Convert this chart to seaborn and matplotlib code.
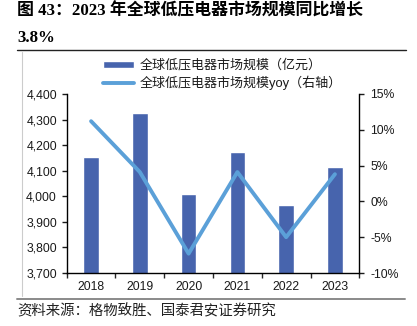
import numpy as np
import pandas as pd
import matplotlib
matplotlib.use("Agg")
import matplotlib.pyplot as plt
from matplotlib.lines import Line2D
from matplotlib.ticker import FuncFormatter, FixedLocator
import seaborn as sns

# Global low-voltage electrical market size (100 million CNY) and YoY growth (%)
years = ["2018", "2019", "2020", "2021", "2022", "2023"]
market_size = [4155, 4325, 4010, 4175, 3965, 4115]
yoy_pct = [11.2, 4.1, -7.3, 4.1, -5.0, 3.8]

bar_label = "全球低压电器市场规模（亿元）"
line_label = "全球低压电器市场规模yoy（右轴）"
title_line1 = "图 43：2023 年全球低压电器市场规模同比增长"
title_line2 = "3.8%"
source_text = "资料来源：格物致胜、国泰君安证券研究"

sns.set_theme(style="white")
plt.rcParams["font.family"] = ["Liberation Sans", "Noto Sans CJK SC", "DejaVu Sans"]

bar_color = "#4764AD"
line_color = "#5BA0D8"

W, H = 417, 326
fig = plt.figure(figsize=(W / 100, H / 100), dpi=100)

def fx(px):
    return px / W

def fy(py):
    return 1 - py / H

ax_left, ax_right, ax_top, ax_bottom = 66.7, 359.3, 94, 273
ax = fig.add_axes([fx(ax_left), fy(ax_bottom), fx(ax_right - ax_left), (ax_bottom - ax_top) / H])

df = pd.DataFrame({"year": years, "size": market_size, "yoy": yoy_pct})

sns.barplot(data=df, x="year", y="size", color=bar_color, width=0.32,
            saturation=1, ax=ax, label=bar_label)
ax.set_ylim(3700, 4400)
ax.set_yticks(np.arange(3700, 4401, 100))
ax.yaxis.set_major_formatter(FuncFormatter(lambda v, p: f"{int(v):,}"))

ax2 = ax.twinx()
sns.pointplot(data=df, x="year", y="yoy", color=line_color, markers="",
              linewidth=2.8, errorbar=None, ax=ax2, label=line_label)
ax2.set_ylim(-10, 15)
ax2.set_yticks(np.arange(-10, 16, 5))
ax2.yaxis.set_major_formatter(FuncFormatter(lambda v, p: f"{int(v)}%"))
ax.set_xlim(-0.5, len(years) - 0.5)

# Only the figure-level legend is kept
for a in (ax, ax2):
    if a.get_legend() is not None:
        a.get_legend().remove()

for a in (ax, ax2):
    a.set_xlabel("")
    a.set_ylabel("")
    a.grid(False)
    for s in a.spines.values():
        s.set_color("black")
        s.set_linewidth(1.0)
    a.spines["top"].set_visible(False)

ax.spines["right"].set_visible(False)
ax2.spines["left"].set_visible(False)
ax2.spines["bottom"].set_visible(False)

tick_font = dict(labelsize=8.8, colors="#1a1a1a")
ax.tick_params(axis="y", direction="out", length=3.5, width=1.0, pad=3.5, left=True, **tick_font)
ax2.tick_params(axis="y", direction="out", length=3.5, width=1.0, pad=4.5, right=True, **tick_font)

# Category labels centred, tick marks on the category boundaries
ax.tick_params(axis="x", which="major", length=0, pad=6.0, **tick_font)
ax.xaxis.set_minor_locator(FixedLocator(np.arange(-0.5, len(years), 1.0)))
ax.tick_params(axis="x", which="minor", direction="out", length=3.5, width=1.0, bottom=True)

# Legend above the plot area
h1, l1 = ax.get_legend_handles_labels()
h2, l2 = ax2.get_legend_handles_labels()
leg = fig.legend(h1 + h2, l1 + l2, loc="upper left",
                 bbox_to_anchor=(fx(103), fy(59)), frameon=False,
                 fontsize=9.4, handlelength=2.4, handleheight=0.45,
                 handletextpad=0.4, labelspacing=0.3, borderpad=0, borderaxespad=0)
for t in leg.get_texts():
    t.set_color("#1a1a1a")

# Title, rules and source note
title_font = ["Liberation Serif", "Noto Sans CJK SC", "DejaVu Sans"]
fig.text(fx(17), fy(11), title_line1, fontsize=12.2, fontweight="bold",
         family=title_font, va="center", ha="left", color="black")
fig.text(fx(17), fy(37.5), title_line2, fontsize=12.2, fontweight="bold",
         family=title_font, va="center", ha="left", color="black")

fig.add_artist(Line2D([fx(17), fx(406)], [fy(49.5), fy(49.5)], color="#222222", lw=1.0))
fig.add_artist(Line2D([fx(22), fx(22)], [fy(52), fy(296)], color="#cccccc", lw=0.8))
fig.add_artist(Line2D([fx(17), fx(405)], [fy(298.5), fy(298.5)], color="#8a8a8a", lw=1.4))

fig.text(fx(17), fy(311.5), source_text, fontsize=10.4,
         family=["Noto Sans CJK SC", "DejaVu Sans"], va="center", ha="left", color="#222222")

fig.savefig("out.png", dpi=100)
